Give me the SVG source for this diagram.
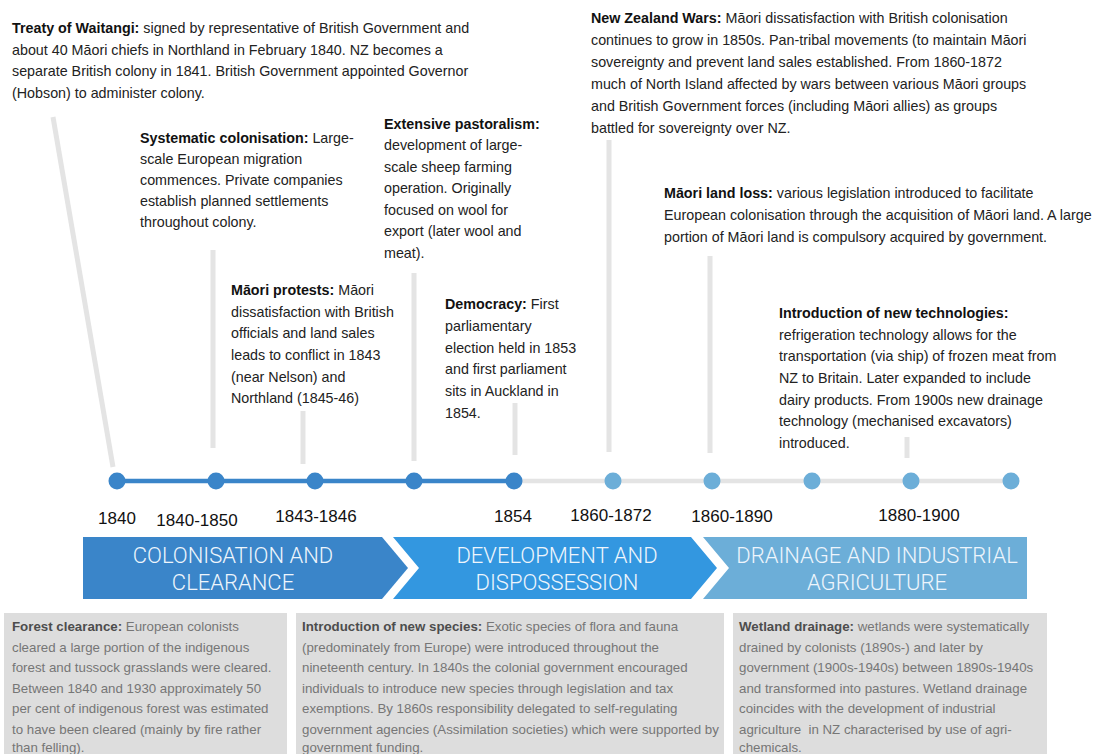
<svg xmlns="http://www.w3.org/2000/svg" width="1103" height="754" viewBox="0 0 1103 754">
  <style>
    .note { font-family: "Liberation Sans", Arial, sans-serif; font-size: 14.3px; fill: #222; }
    .note .h { font-weight: bold; fill: #111; }
    .year { font-family: "Liberation Sans", Arial, sans-serif; font-size: 17px; fill: #111; text-anchor: middle; }
    .phase { font-family: Roboto, "Liberation Sans", sans-serif; font-weight: 300; font-size: 22px; fill: #eef5fc; text-anchor: middle; }
    .box { fill: #dddddd; }
    .boxtext { font-family: "Liberation Sans", Arial, sans-serif; font-size: 13.3px; fill: #767676; white-space: pre; }
    .boxtext .h { font-weight: bold; fill: #4d4d4d; }
    .stem { stroke: #e4e4e4; stroke-width: 5; fill: none; }
    .dot-a { fill: #3a85c9; }
    .dot-b { fill: #6caed8; }
  </style>

  <rect width="1103" height="754" fill="#ffffff"/>

  <!-- connectors: stems from notes down to the timeline, and the timeline itself -->
  <g id="connectors">
    <line class="stem" x1="53" y1="117" x2="113" y2="467"/>
    <line class="stem" x1="213" y1="250" x2="213" y2="448"/>
    <line class="stem" x1="303" y1="411" x2="303" y2="464"/>
    <line class="stem" x1="414" y1="273" x2="414" y2="461"/>
    <line class="stem" x1="515" y1="403" x2="515" y2="455"/>
    <line class="stem" x1="609" y1="140" x2="609" y2="452"/>
    <line class="stem" x1="710" y1="256" x2="710" y2="453"/>
    <line class="stem" x1="907" y1="437" x2="907" y2="458"/>
    <line x1="514" y1="481" x2="1011" y2="481" stroke="#e4e4e4" stroke-width="4.5"/>
    <line x1="117" y1="481" x2="514" y2="481" stroke="#3a85c9" stroke-width="4.5"/>
  </g>

  <!-- timeline points -->
  <g id="points">
    <circle class="dot-a" cx="117" cy="481" r="8.5"/>
    <circle class="dot-a" cx="216" cy="481" r="8.5"/>
    <circle class="dot-a" cx="315" cy="481" r="8.5"/>
    <circle class="dot-a" cx="414" cy="481" r="8.5"/>
    <circle class="dot-a" cx="514" cy="481" r="8.5"/>
    <circle class="dot-b" cx="613" cy="481" r="8.5"/>
    <circle class="dot-b" cx="712" cy="481" r="8.5"/>
    <circle class="dot-b" cx="812" cy="481" r="8.5"/>
    <circle class="dot-b" cx="911" cy="481" r="8.5"/>
    <circle class="dot-b" cx="1011" cy="481" r="8.5"/>
  </g>

  <!-- year labels -->
  <g id="years">
    <text class="year" x="117" y="524">1840</text>
    <text class="year" x="197" y="526">1840-1850</text>
    <text class="year" x="316" y="522">1843-1846</text>
    <text class="year" x="513" y="522">1854</text>
    <text class="year" x="611" y="521">1860-1872</text>
    <text class="year" x="732" y="522">1860-1890</text>
    <text class="year" x="919" y="521">1880-1900</text>
  </g>

  <!-- event notes -->
  <g id="treaty">
    <text class="note" x="12" y="33"><tspan class="h">Treaty of Waitangi:</tspan> signed by representative of British Government and</text>
    <text class="note" x="12" y="54.5">about 40 Māori chiefs in Northland in February 1840. NZ becomes a</text>
    <text class="note" x="12" y="76">separate British colony in 1841. British Government appointed Governor</text>
    <text class="note" x="12" y="97.5">(Hobson) to administer colony.</text>
  </g>

  <g id="systematic-colonisation">
    <text class="note" x="140" y="143"><tspan class="h">Systematic colonisation:</tspan> Large-</text>
    <text class="note" x="140" y="164">scale European migration</text>
    <text class="note" x="140" y="185">commences. Private companies</text>
    <text class="note" x="140" y="206">establish planned settlements</text>
    <text class="note" x="140" y="227">throughout colony.</text>
  </g>

  <g id="extensive-pastoralism">
    <text class="note" x="384" y="129"><tspan class="h">Extensive pastoralism:</tspan></text>
    <text class="note" x="384" y="150">development of large-</text>
    <text class="note" x="384" y="172">scale sheep farming</text>
    <text class="note" x="384" y="193">operation. Originally</text>
    <text class="note" x="384" y="215">focused on wool for</text>
    <text class="note" x="384" y="236">export (later wool and</text>
    <text class="note" x="384" y="258">meat).</text>
  </g>

  <g id="maori-protests">
    <text class="note" x="231" y="295"><tspan class="h">Māori protests:</tspan> Māori</text>
    <text class="note" x="231" y="317">dissatisfaction with British</text>
    <text class="note" x="231" y="338">officials and land sales</text>
    <text class="note" x="231" y="360">leads to conflict in 1843</text>
    <text class="note" x="231" y="382">(near Nelson) and</text>
    <text class="note" x="231" y="403">Northland (1845-46)</text>
  </g>

  <g id="democracy">
    <text class="note" x="445" y="309"><tspan class="h">Democracy:</tspan> First</text>
    <text class="note" x="445" y="331">parliamentary</text>
    <text class="note" x="445" y="353">election held in 1853</text>
    <text class="note" x="445" y="374">and first parliament</text>
    <text class="note" x="445" y="396">sits in Auckland in</text>
    <text class="note" x="445" y="418">1854.</text>
  </g>

  <g id="new-zealand-wars">
    <text class="note" x="591" y="23"><tspan class="h">New Zealand Wars:</tspan> Māori dissatisfaction with British colonisation</text>
    <text class="note" x="591" y="45">continues to grow in 1850s. Pan-tribal movements (to maintain Māori</text>
    <text class="note" x="591" y="67">sovereignty and prevent land sales established. From 1860-1872</text>
    <text class="note" x="591" y="89">much of North Island affected by wars between various Māori groups</text>
    <text class="note" x="591" y="111">and British Government forces (including Māori allies) as groups</text>
    <text class="note" x="591" y="133">battled for sovereignty over NZ.</text>
  </g>

  <g id="maori-land-loss">
    <text class="note" x="664" y="198"><tspan class="h">Māori land loss:</tspan> various legislation introduced to facilitate</text>
    <text class="note" x="664" y="220">European colonisation through the acquisition of Māori land. A large</text>
    <text class="note" x="664" y="242">portion of Māori land is compulsory acquired by government.</text>
  </g>

  <g id="new-technologies">
    <text class="note" x="779" y="318"><tspan class="h">Introduction of new technologies:</tspan></text>
    <text class="note" x="779" y="340">refrigeration technology allows for the</text>
    <text class="note" x="779" y="361">transportation (via ship) of frozen meat from</text>
    <text class="note" x="779" y="383">NZ to Britain. Later expanded to include</text>
    <text class="note" x="779" y="405">dairy products. From 1900s new drainage</text>
    <text class="note" x="779" y="426">technology (mechanised excavators)</text>
    <text class="note" x="779" y="448">introduced.</text>
  </g>

  <!-- phase banners -->
  <g id="phase-colonisation">
    <polygon points="83,537 382,537 408,568 382,599 83,599" fill="#3a85c9"/>
    <text class="phase" x="233" y="563">COLONISATION AND</text>
    <text class="phase" x="233" y="590">CLEARANCE</text>
  </g>
  <g id="phase-development">
    <polygon points="393,537 691,537 717,568 691,599 393,599 419,568" fill="#3397e0"/>
    <text class="phase" x="557" y="563">DEVELOPMENT AND</text>
    <text class="phase" x="557" y="590">DISPOSSESSION</text>
  </g>
  <g id="phase-drainage">
    <polygon points="703,537 1027,537 1027,599 703,599 729,568" fill="#6caed8"/>
    <text class="phase" x="877" y="563">DRAINAGE AND INDUSTRIAL</text>
    <text class="phase" x="877" y="590">AGRICULTURE</text>
  </g>

  <!-- impact panels -->
  <g id="forest-clearance">
    <rect class="box" x="4" y="613" width="283" height="141"/>
    <text class="boxtext" x="12" y="631"><tspan class="h">Forest clearance:</tspan> European colonists</text>
    <text class="boxtext" x="12" y="651.5">cleared a large portion of the indigenous</text>
    <text class="boxtext" x="12" y="672">forest and tussock grasslands were cleared.</text>
    <text class="boxtext" x="12" y="692.5">Between 1840 and 1930 approximately 50</text>
    <text class="boxtext" x="12" y="713">per cent of indigenous forest was estimated</text>
    <text class="boxtext" x="12" y="733.5">to have been cleared (mainly by fire rather</text>
    <text class="boxtext" x="12" y="752">than felling).</text>
  </g>

  <g id="new-species">
    <rect class="box" x="296" y="613" width="428" height="141"/>
    <text class="boxtext" x="302" y="631"><tspan class="h">Introduction of new species:</tspan> Exotic species of flora and fauna</text>
    <text class="boxtext" x="302" y="651.5">(predominately from Europe) were introduced throughout the</text>
    <text class="boxtext" x="302" y="672">nineteenth century. In 1840s the colonial government encouraged</text>
    <text class="boxtext" x="302" y="692.5">individuals to introduce new species through legislation and tax</text>
    <text class="boxtext" x="302" y="713">exemptions. By 1860s responsibility delegated to self-regulating</text>
    <text class="boxtext" x="302" y="733.5">government agencies (Assimilation societies) which were supported by</text>
    <text class="boxtext" x="302" y="752">government funding.</text>
  </g>

  <g id="wetland-drainage">
    <rect class="box" x="733" y="613" width="314" height="141"/>
    <text class="boxtext" x="739" y="631"><tspan class="h">Wetland drainage:</tspan> wetlands were systematically</text>
    <text class="boxtext" x="739" y="651.5">drained by colonists (1890s-) and later by</text>
    <text class="boxtext" x="739" y="672">government (1900s-1940s) between 1890s-1940s</text>
    <text class="boxtext" x="739" y="692.5">and transformed into pastures. Wetland drainage</text>
    <text class="boxtext" x="739" y="713">coincides with the development of industrial</text>
    <text class="boxtext" x="739" y="733.5">agriculture  in NZ characterised by use of agri-</text>
    <text class="boxtext" x="739" y="752">chemicals.</text>
  </g>
</svg>
